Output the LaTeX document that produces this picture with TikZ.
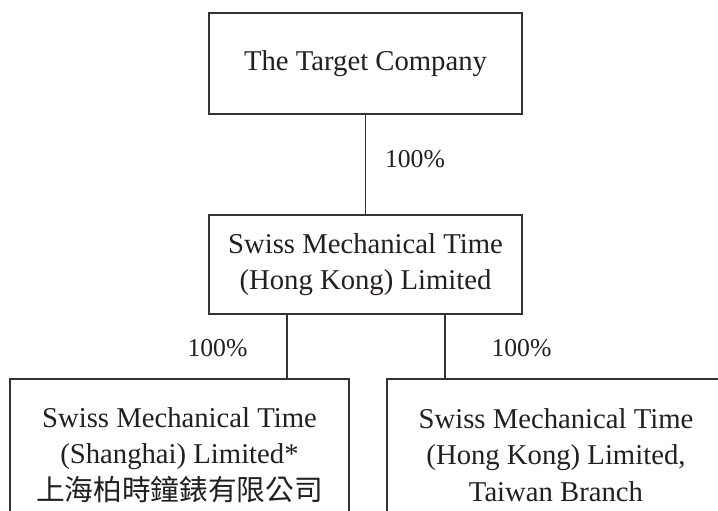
\documentclass[tikz,border=0pt]{standalone}
\usepackage{fontspec}
\setmainfont{Liberation Serif}
\newfontfamily\cjk{Noto Sans CJK TC}
\definecolor{linec}{HTML}{333333}
\definecolor{textc}{HTML}{231F20}
\tikzset{
  box/.style={draw=linec, line width=1.2pt, rectangle, inner sep=0pt, align=center,
    text=textc, font=\fontsize{28.7}{36.5}\selectfont},
  pct/.style={inner sep=0pt, anchor=base, text=textc, font=\fontsize{25.7}{30}\selectfont},
  conn/.style={draw=linec, line width=1.2pt}
}
\begin{document}
\begin{tikzpicture}[x=1pt, y=-1pt]
\useasboundingbox (0,0) rectangle (718,511);
\clip (0,0) rectangle (718,511);
\fill[white] (0,0) rectangle (718,511);
\node[box, minimum width=313pt, minimum height=101pt] (top) at (365.5,63.5) {The Target Company};
\node[box, minimum width=313pt, minimum height=99pt] (mid) at (365.5,264.5) {Swiss Mechanical Time\\(Hong Kong) Limited};
\node[box, minimum width=339pt, minimum height=152pt] (left) at (179.5,455) {Swiss Mechanical Time\\(Shanghai) Limited*\\{\cjk 上海柏時鐘錶有限公司}};
\node[box, minimum width=338pt, minimum height=152pt] (right) at (556,455) {Swiss Mechanical Time\\(Hong Kong) Limited,\\Taiwan Branch};
\coordinate (l1) at (287,0);
\coordinate (l2) at (445,0);
\draw[conn] (top.south) -- (mid.north);
\draw[conn] (mid.south -| l1) -- (left.north -| l1);
\draw[conn] (mid.south -| l2) -- (right.north -| l2);
\node[pct] (p0) at (415,167) {100\%};
\node[pct] (p1) at (217.5,356) {100\%};
\node[pct] (p2) at (521.5,356) {100\%};
\end{tikzpicture}
\end{document}
